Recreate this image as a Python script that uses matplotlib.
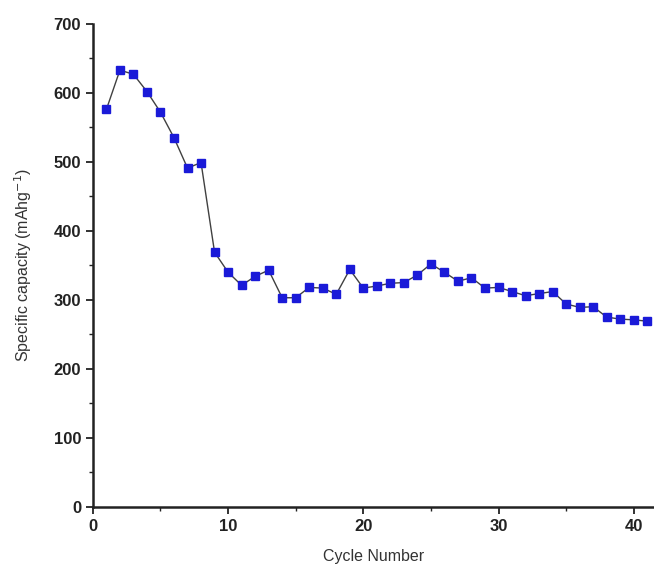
import numpy as np
import matplotlib.pyplot as plt
from matplotlib.ticker import MultipleLocator

plt.rcParams['font.family'] = ['Liberation Sans', 'DejaVu Sans']

# Cycle number vs specific capacity
cycles = np.arange(1, 42)
capacity = [576, 633, 627, 602, 572, 535, 491, 499, 369, 340,
            321, 334, 343, 303, 303, 318, 317, 308, 344, 317,
            320, 324, 325, 336, 352, 340, 327, 332, 317, 318,
            312, 306, 309, 312, 294, 289, 290, 275, 272, 271, 269]

fig = plt.figure(figsize=(6.54, 5.70), dpi=100)
ax = fig.add_axes([0.142, 0.111, 0.858, 0.847])

ax.plot(cycles, capacity, color='#404040', linewidth=1.0, zorder=2)
ax.plot(cycles, capacity, linestyle='none', marker='s', markersize=6,
        markerfacecolor='#1a1ad8', markeredgecolor='#1a1ad8', zorder=3)

ax.set_xlim(0, 41.5)
ax.set_ylim(0, 700)
ax.xaxis.set_major_locator(MultipleLocator(10))
ax.xaxis.set_minor_locator(MultipleLocator(5))
ax.yaxis.set_major_locator(MultipleLocator(100))
ax.yaxis.set_minor_locator(MultipleLocator(50))

for side in ['top', 'right']:
    ax.spines[side].set_visible(False)
for side in ['left', 'bottom']:
    ax.spines[side].set_linewidth(1.8)
    ax.spines[side].set_color('#222222')

ax.tick_params(which='major', direction='out', length=5, width=1.3,
               labelsize=12, colors='#222222')
ax.tick_params(which='minor', direction='out', length=3, width=1.0,
               colors='#222222')
for lbl in ax.get_xticklabels() + ax.get_yticklabels():
    lbl.set_fontweight('bold')

ax.set_xlabel('Cycle Number', fontsize=11.5, color='#333333', labelpad=11)
ax.set_ylabel('Specific capacity (mAhg$^{-1}$)', fontsize=11.5, color='#333333', labelpad=14)

fig.savefig('out.png', dpi=100)
